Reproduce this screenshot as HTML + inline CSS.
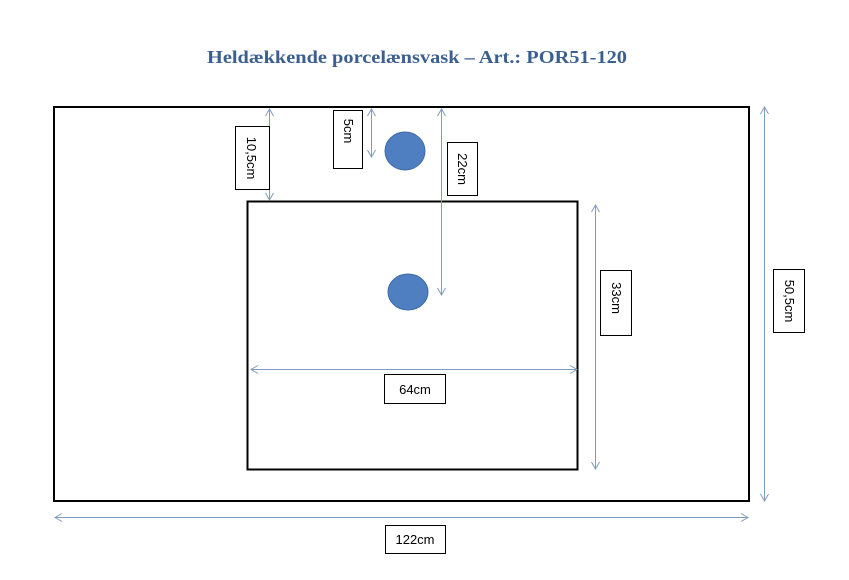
<!DOCTYPE html>
<html><head><meta charset="utf-8"><style>
html,body{margin:0;padding:0;background:#fff;}
svg{display:block;}
.l{font-family:"Liberation Sans",sans-serif;font-size:13px;fill:#000;}
</style></head><body>
<svg width="849" height="580" viewBox="0 0 849 580" xmlns="http://www.w3.org/2000/svg">
<defs>
<marker id="a" markerWidth="10" markerHeight="10" refX="8" refY="5" orient="auto-start-reverse" markerUnits="userSpaceOnUse">
<path d="M1,1 L8,5 L1,9" fill="none" stroke="#7f9cc0" stroke-width="1"/>
</marker>
</defs>
<text x="207" y="63" textLength="420" lengthAdjust="spacingAndGlyphs" font-family="Liberation Serif,serif" font-weight="bold" font-size="18" fill="#3b6090">Heldækkende porcelænsvask – Art.: POR51-120</text>
<rect x="54" y="107" width="695" height="394" fill="none" stroke="#000" stroke-width="2"/>
<rect x="247.5" y="201.5" width="330" height="268" fill="none" stroke="#000" stroke-width="2"/>
<ellipse cx="405" cy="151" rx="20" ry="19" fill="#4f7fc0" stroke="#3d6aa8"/>
<ellipse cx="408" cy="292" rx="20" ry="18" fill="#4f7fc0" stroke="#3d6aa8"/>
<g stroke="#7f9cc0" stroke-width="1" fill="none">
<line x1="269.5" y1="109" x2="269.5" y2="200" marker-start="url(#a)" marker-end="url(#a)"/>
<line x1="371.5" y1="109" x2="371.5" y2="157" marker-start="url(#a)" marker-end="url(#a)"/>
<line x1="441.5" y1="109" x2="441.5" y2="295" marker-start="url(#a)" marker-end="url(#a)"/>
<line x1="595.5" y1="205" x2="595.5" y2="469" marker-start="url(#a)" marker-end="url(#a)"/>
<line x1="764.5" y1="107" x2="764.5" y2="501" marker-start="url(#a)" marker-end="url(#a)"/>
<line x1="251" y1="369.5" x2="577" y2="369.5" marker-start="url(#a)" marker-end="url(#a)"/>
<line x1="55" y1="517.5" x2="748" y2="517.5" marker-start="url(#a)" marker-end="url(#a)"/>
</g>
<g fill="#fff" stroke="#000" stroke-width="1">
<rect x="235.5" y="126.5" width="34" height="63"/>
<rect x="333.5" y="110.5" width="29" height="58"/>
<rect x="447.5" y="142.5" width="30" height="53"/>
<rect x="600.5" y="270.5" width="31" height="65"/>
<rect x="773.5" y="269.5" width="31" height="63"/>
<rect x="384.5" y="374.5" width="61" height="29"/>
<rect x="385.5" y="525.5" width="60" height="28"/>
</g>
<text class="l" transform="translate(247,158) rotate(90)" text-anchor="middle">10,5cm</text>
<text class="l" transform="translate(344,131) rotate(90)" text-anchor="middle">5cm</text>
<text class="l" transform="translate(458,169) rotate(90)" text-anchor="middle">22cm</text>
<text class="l" transform="translate(612,298) rotate(90)" text-anchor="middle">33cm</text>
<text class="l" transform="translate(785,301) rotate(90)" text-anchor="middle">50,5cm</text>
<text class="l" x="415" y="394" text-anchor="middle">64cm</text>
<text class="l" x="415" y="544" text-anchor="middle">122cm</text>
</svg>
</body></html>
